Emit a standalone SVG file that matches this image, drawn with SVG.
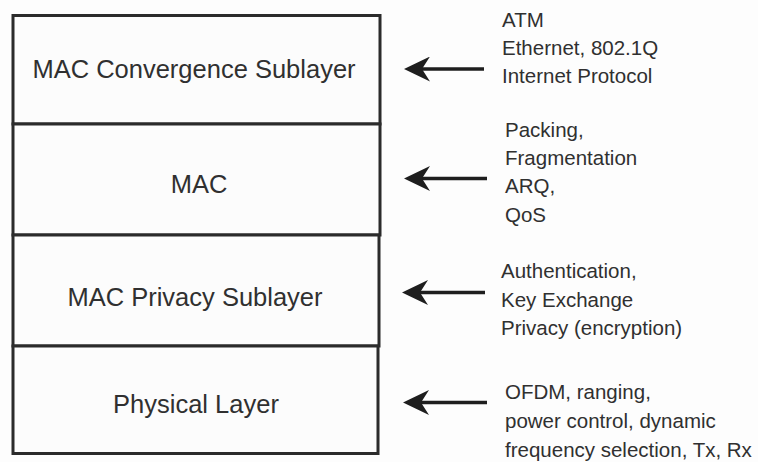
<svg xmlns="http://www.w3.org/2000/svg" width="758" height="462" viewBox="0 0 758 462">
  <style>
    .layer { fill: #fcfcfc; stroke: #2b2b2b; stroke-width: 3; }
    .layer-label { font-family: "Liberation Sans", Arial, sans-serif; font-size: 25.5px; fill: #303030; text-anchor: middle; }
    .note { font-family: "Liberation Sans", Arial, sans-serif; font-size: 20.5px; fill: #303030; }
    .arrow { stroke: #1e1e1e; stroke-width: 3.5; fill: none; marker-end: url(#head); }
  </style>
  <defs>
    <!-- notched arrowhead; tip sits 9px beyond the line end -->
    <marker id="head" markerUnits="userSpaceOnUse" viewBox="0 0 26 25" markerWidth="26" markerHeight="25" refX="17" refY="12.5" orient="auto">
      <path d="M0,0 L26,12.5 L0,25 L8,12.5 Z" fill="#1e1e1e"/>
    </marker>
  </defs>

  <rect width="758" height="462" fill="#fdfdfd"/>

  <!-- protocol stack -->
  <g id="mac-convergence-sublayer">
    <rect class="layer" x="13" y="15.5" width="367" height="108.5"/>
    <text class="layer-label" x="194" y="78">MAC Convergence Sublayer</text>
  </g>
  <g id="mac">
    <rect class="layer" x="13" y="124" width="367" height="111"/>
    <text class="layer-label" x="199" y="193">MAC</text>
  </g>
  <g id="mac-privacy-sublayer">
    <rect class="layer" x="13" y="235" width="366" height="111"/>
    <text class="layer-label" x="195" y="306">MAC Privacy Sublayer</text>
  </g>
  <g id="physical-layer">
    <rect class="layer" x="13" y="346" width="365" height="107.5"/>
    <text class="layer-label" x="196" y="413">Physical Layer</text>
  </g>

  <!-- function lists -->
  <g id="convergence-functions" class="note">
    <text x="502" y="26.7">ATM</text>
    <text x="502" y="55">Ethernet, 802.1Q</text>
    <text x="502" y="83.3">Internet Protocol</text>
  </g>
  <g id="mac-functions" class="note">
    <text x="505" y="136.7">Packing,</text>
    <text x="505" y="165">Fragmentation</text>
    <text x="505" y="193.3">ARQ,</text>
    <text x="505" y="221.7">QoS</text>
  </g>
  <g id="privacy-functions" class="note">
    <text x="501" y="278.3">Authentication,</text>
    <text x="501" y="306.7">Key Exchange</text>
    <text x="501" y="335">Privacy (encryption)</text>
  </g>
  <g id="physical-functions" class="note">
    <text x="505" y="399.3">OFDM, ranging,</text>
    <text x="505" y="428">power control, dynamic</text>
    <text x="505" y="456.7">frequency selection, Tx, Rx</text>
  </g>

  <!-- connectors -->
  <g id="connectors">
    <line class="arrow" x1="484" y1="69" x2="413" y2="69"/>
    <line class="arrow" x1="487" y1="178.5" x2="413" y2="178.5"/>
    <line class="arrow" x1="485" y1="292.5" x2="411" y2="292.5"/>
    <line class="arrow" x1="487" y1="402.5" x2="412" y2="402.5"/>
  </g>
</svg>
